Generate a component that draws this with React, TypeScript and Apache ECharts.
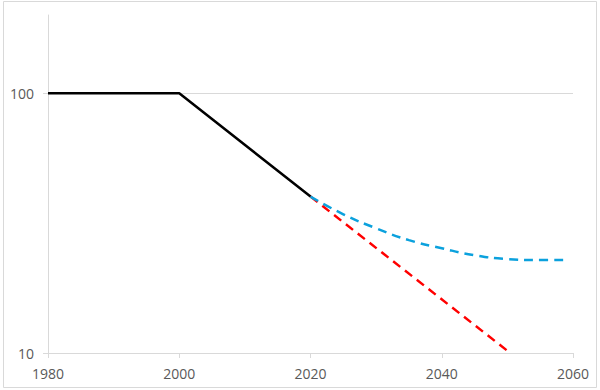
import React, { useEffect, useRef } from "react";
import * as echarts from "echarts";

const historyYears = [1980, 2000, 2020];
const historyValues = [100, 100, 40];

const fastYears = [2020, 2050];
const fastValues = [40, 10.2];

const slowYears = [2020, 2025, 2030, 2035, 2040, 2045, 2050, 2055, 2059];
const slowValues = [40, 34.2, 30.2, 27.2, 25.3, 23.8, 23.0, 22.8, 22.8];

const xTicks = [1980, 2000, 2020, 2040, 2060];
const yMin = 10;
const yMax = 200;

const pairs = (xs: number[], ys: number[]) => xs.map((x, i) => [x, ys[i]]);

export default function App() {
  const ref = useRef<HTMLDivElement>(null);
  useEffect(() => {
    if (!ref.current) return;
    const chart = echarts.init(ref.current, undefined, { renderer: "svg" });
    const font = "Open Sans";
    chart.setOption({
      animation: false,
      backgroundColor: "#ffffff",
      graphic: [
        {
          type: "rect",
          shape: { x: 3.5, y: 1.5, width: 593, height: 386 },
          style: { fill: "none", stroke: "#d9d9d9", lineWidth: 1 },
          silent: true,
        },
      ],
      grid: { left: 48, right: 27, top: 15, bottom: 37, containLabel: false },
      xAxis: {
        type: "value",
        min: xTicks[0],
        max: xTicks[xTicks.length - 1],
        interval: 20,
        axisLine: { show: true, lineStyle: { color: "#d9d9d9", width: 1 } },
        axisTick: { show: true, length: 5, lineStyle: { color: "#d9d9d9" } },
        splitLine: { show: false },
        axisLabel: {
          color: "#595959",
          fontSize: 14,
          fontFamily: font,
          margin: 13,
          formatter: (v: number) => String(v),
        },
      },
      yAxis: {
        type: "log",
        logBase: 10,
        min: yMin,
        max: yMax,
        axisLine: { show: true, onZero: false, lineStyle: { color: "#d9d9d9", width: 1 } },
        axisTick: { show: true, length: 5, lineStyle: { color: "#d9d9d9" } },
        splitLine: {
          show: true,
          showMinLine: false,
          showMaxLine: false,
          lineStyle: { color: "#d9d9d9", width: 1 },
        },
        axisLabel: {
          color: "#595959",
          fontSize: 14,
          fontFamily: font,
          margin: 14,
          showMaxLabel: false,
          formatter: (v: number) => String(Math.round(v)),
        },
      },
      series: [
        {
          type: "line",
          data: pairs(fastYears, fastValues),
          showSymbol: false,
          lineStyle: { color: "#ff0000", width: 2.5, type: [9, 6] },
          z: 2,
        },
        {
          type: "line",
          data: pairs(slowYears, slowValues),
          showSymbol: false,
          smooth: true,
          lineStyle: { color: "#0ba1dd", width: 2.5, type: [9, 6] },
          z: 3,
        },
        {
          type: "line",
          data: pairs(historyYears, historyValues),
          showSymbol: false,
          lineStyle: { color: "#000000", width: 2.5 },
          z: 4,
        },
      ],
    });
    return () => chart.dispose();
  }, []);
  return (
    <div
      ref={ref}
      style={{ position: "fixed", left: 0, top: 0, width: 600, height: 390 }}
    />
  );
}
